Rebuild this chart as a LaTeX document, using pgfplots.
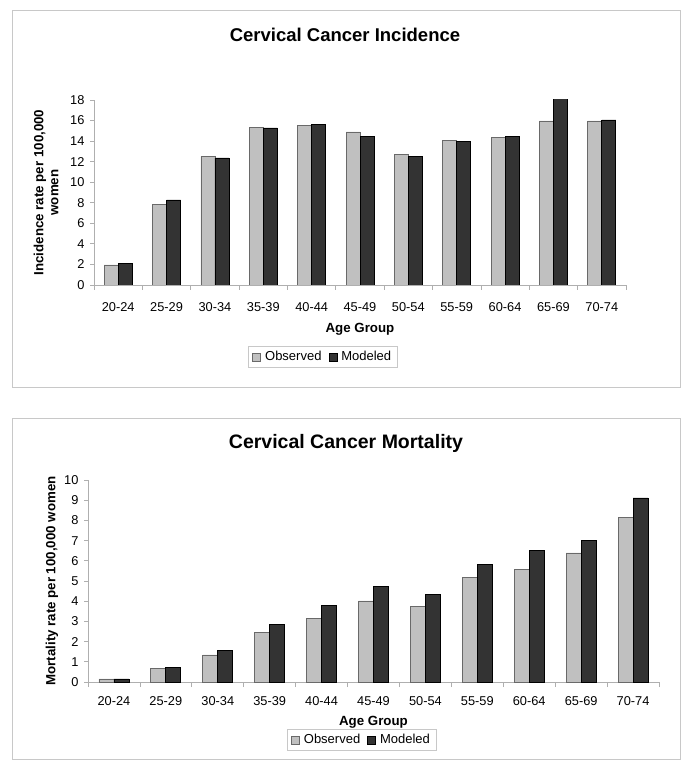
\documentclass[border=0pt]{standalone}
\usepackage{fontspec}
\setmainfont{Liberation Sans}
\usepackage{pgfplots}
\usepackage{pgfplotstable}
\pgfplotsset{compat=1.18}
\definecolor{obsfill}{RGB}{192,192,192}
\definecolor{obsedge}{RGB}{105,105,105}
\definecolor{modfill}{RGB}{51,51,51}
\definecolor{axisgray}{RGB}{175,175,175}
\definecolor{boxgray}{RGB}{200,200,200}

\pgfplotstableread{
x obs mod
0 1.95 2.14
1 7.88 8.27
2 12.52 12.36
3 15.37 15.28
4 15.54 15.60
5 14.89 14.43
6 12.71 12.55
7 14.04 13.95
8 14.37 14.43
9 15.96 18.16
10 15.96 16.06
}\incidence

\pgfplotstableread{
x obs mod
0 0.15 0.15
1 0.66 0.71
2 1.34 1.54
3 2.47 2.85
4 3.13 3.81
5 4.01 4.72
6 3.76 4.35
7 5.18 5.84
8 5.56 6.52
9 6.39 6.99
10 8.15 9.11
}\mortality

\pgfplotsset{
  excelbar/.style={
    scale only axis,
    anchor=south west,
    ybar=0pt,
    bar width=14pt,
    xmin=-0.5, xmax=10.5,
    ymin=0,
    enlargelimits=false,
    axis x line*=bottom,
    axis y line*=left,
    axis line style={-, draw=axisgray, line width=0.8pt},
    tick align=outside,
    major tick length=4pt,
    minor tick length=5pt,
    major x tick style={draw=none},
    minor x tick style={draw=axisgray, line width=0.8pt},
    major y tick style={draw=axisgray, line width=0.8pt},
    xtick={0,...,10},
    minor xtick={-0.5,0.5,...,10.5},
    xticklabels={20-24,25-29,30-34,35-39,40-44,45-49,50-54,55-59,60-64,65-69,70-74},
    /pgf/number format/assume math mode=true,
    tick label style={font=\fontsize{12.8}{14}\selectfont},
    yticklabel style={xshift=-2pt},
    label style={font=\bfseries\fontsize{13.3}{15}\selectfont},
    legend columns=2,
    legend style={draw=boxgray, font=\fontsize{13}{15}\selectfont,
      /tikz/every even column/.append style={column sep=5pt},
      /tikz/every odd column/.append style={column sep=2pt},
      inner xsep=4pt, inner ysep=3pt},
    legend image code/.code={\draw[#1,line width=0.8pt] (0pt,-4pt) rectangle (8pt,4pt);},
  },
  obsstyle/.style={fill=obsfill, draw=obsedge, line width=0.8pt},
  modstyle/.style={fill=modfill, draw=black, line width=0.8pt},
}

\begin{document}
\begin{tikzpicture}[x=1pt,y=1pt]
\useasboundingbox (0,0) rectangle (685,772);
\draw[boxgray, line width=1pt] (12,384) rectangle (680,761);
\draw[boxgray, line width=1pt] (12,12) rectangle (680,353);
\node[font=\bfseries\fontsize{18.5}{20}\selectfont] at (345,737) {Cervical Cancer Incidence};
\node[font=\bfseries\fontsize{19.5}{21}\selectfont] at (346,329) {Cervical Cancer Mortality};

\begin{axis}[excelbar,
  at={(94pt,487pt)},
  width=532pt, height=185pt,
  ymax=18, ytick={0,2,...,18},
  xticklabel style={yshift=-10pt},
  xlabel={Age Group},
  xlabel style={at={(axis description cs:0.5,-0.238)}, anchor=center},
  ylabel={Incidence rate per 100,000\\women},
  ylabel style={at={(axis description cs:-0.090,0.5)}, anchor=center, align=center},
  legend style={at={(0.430,-0.389)}, anchor=center},
]
\addplot[obsstyle] table[x=x,y=obs]{\incidence};
\addplot[modstyle] table[x=x,y=mod]{\incidence};
\legend{Observed,Modeled}
\end{axis}

\begin{axis}[excelbar,
  at={(88pt,90pt)},
  width=571pt, height=202pt,
  bar width=15pt,
  ymax=10, ytick={0,1,...,10},
  xticklabel style={yshift=-7pt},
  xlabel={Age Group},
  xlabel style={at={(axis description cs:0.5,-0.198)}, anchor=center},
  ylabel={Mortality rate per 100,000 women},
  ylabel style={at={(axis description cs:-0.063,0.5)}, anchor=center},
  legend style={at={(0.479,-0.287)}, anchor=center},
]
\addplot[obsstyle] table[x=x,y=obs]{\mortality};
\addplot[modstyle] table[x=x,y=mod]{\mortality};
\legend{Observed,Modeled}
\end{axis}
\end{tikzpicture}
\end{document}
